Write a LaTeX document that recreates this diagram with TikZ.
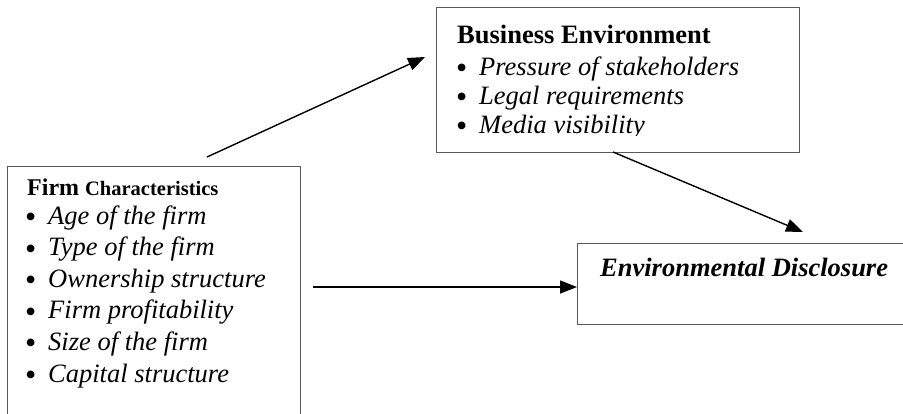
\documentclass[tikz,border=0pt]{standalone}
\usepackage{fontspec}
\setmainfont{Liberation Serif}
\usetikzlibrary{arrows.meta}
\begin{document}
\begin{tikzpicture}[x=1pt,y=-1pt,
  box/.style={draw=black!65, line width=1.1pt, rectangle, inner sep=0pt},
  conn/.style={line width=1.4pt, -{Triangle[length=17pt,width=13pt]}},
  itm/.style={anchor=base west, inner sep=0pt, font=\fontsize{26.5}{30}\selectfont\itshape},
  bul/.style={anchor=base west, inner sep=0pt, font=\fontsize{32}{30}\selectfont},
  ttl/.style={anchor=base west, inner sep=0pt, font=\fontsize{26.5}{30}\selectfont\bfseries}]
\useasboundingbox (0,0) rectangle (903,413);
% boxes
\node[box, anchor=north west, minimum width=293pt, minimum height=300pt] (firm) at (7,166) {};
\node[box, anchor=north west, minimum width=363pt, minimum height=145pt] (biz) at (436,7) {};
\node[box, anchor=north west, minimum width=340pt, minimum height=81pt] (env) at (577,243) {};
% firm text
\node[anchor=base west, inner sep=0pt] (ft) at (27,195) {\fontsize{24}{30}\selectfont\bfseries Firm \fontsize{20.5}{30}\selectfont Characteristics};
\foreach \t [count=\i] in {Age of the firm, Type of the firm, Ownership structure, Firm profitability, Size of the firm, Capital structure} {
  \node[bul] (fb\i) at (25,224+31.6*\i-31.6) {\raisebox{-3.5pt}{\textbullet}};
  \node[itm] (fi\i) at (48,224+31.6*\i-31.6) {\t};
}
% business text
\begin{scope}
\clip (436,7) rectangle (800,135);
\node[ttl] (bt) at (457,43) {Business Environment};
\foreach \t [count=\i] in {Pressure of stakeholders, Legal requirements, Media visibility} {
  \node[bul] (bb\i) at (456,75+29*\i-29) {\raisebox{-3.5pt}{\textbullet}};
  \node[itm] (bi\i) at (479,75+29*\i-29) {\t};
}
\end{scope}
% env text
\node[anchor=base west, inner sep=0pt, font=\fontsize{26.5}{30}\selectfont\bfseries\itshape] (et) at (600,276) {Environmental Disclosure};
% connectors
\coordinate (a1s) at (207,157);
\coordinate (a1e) at (425,57);
\coordinate (a2s) at (613,152);
\coordinate (a2e) at (803,232);
\coordinate (a3s) at (313,287);
\draw[conn] (a1s) -- (a1e);
\draw[conn] (a2s) -- (a2e);
\draw[conn] (a3s) -- (a3s -| env.west);
\end{tikzpicture}
\end{document}
